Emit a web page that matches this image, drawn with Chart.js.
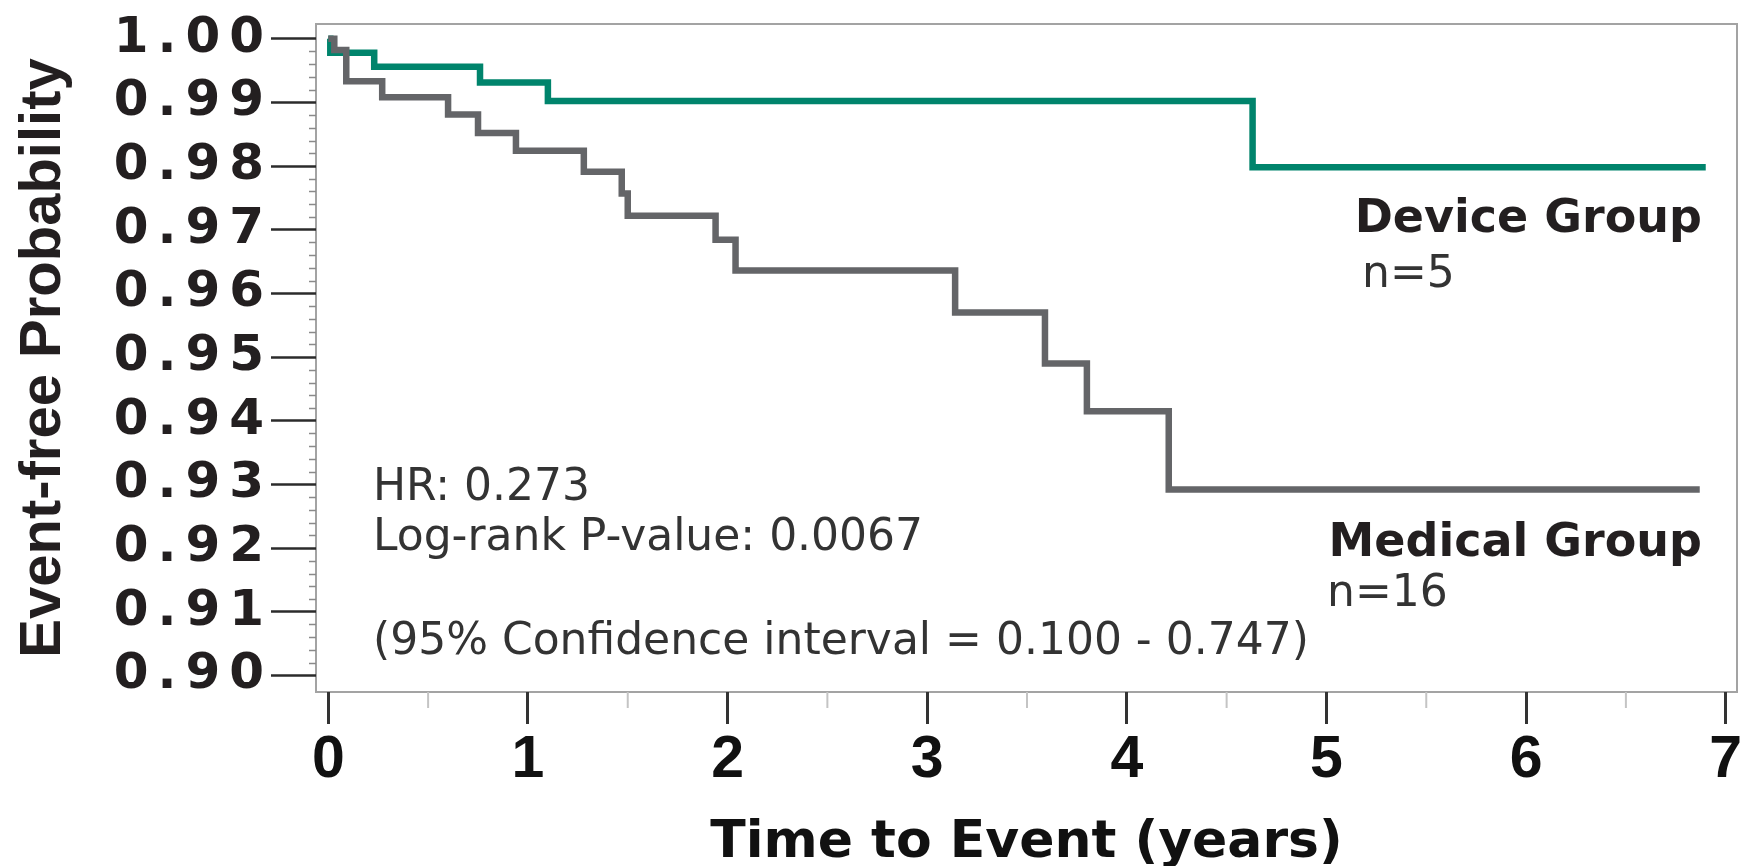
<!DOCTYPE html>
<html>
<head>
<meta charset="utf-8">
<script src="https://cdn.jsdelivr.net/npm/chart.js@4/dist/chart.umd.min.js"></script>
<style>
  html, body { margin: 0; padding: 0; background: #ffffff; }
  #c { display: block; }
</style>
</head>
<body>
<canvas id="c" width="1744" height="866"></canvas>
<script>
// ---- data ----
const xTicks = [0, 1, 2, 3, 4, 5, 6, 7];
const xMinorTicks = [0.5, 1.5, 2.5, 3.5, 4.5, 5.5, 6.5];
const yTicks = [0.90, 0.91, 0.92, 0.93, 0.94, 0.95, 0.96, 0.97, 0.98, 0.99, 1.00];
const yTickLabels = ['0.90', '0.91', '0.92', '0.93', '0.94', '0.95', '0.96', '0.97', '0.98', '0.99', '1.00'];

const deviceTime = [0, 0.01, 0.23, 0.76, 1.10, 4.63, 6.90];
const deviceSurv = [1.0, 0.9978, 0.9956, 0.9931, 0.9902, 0.9798, 0.9798];

const medicalTime = [0, 0.03, 0.09, 0.27, 0.60, 0.75, 0.94, 1.28, 1.47, 1.50, 1.94, 2.04, 3.14, 3.59, 3.80, 4.21, 6.87];
const medicalSurv = [1.0, 0.9982, 0.9933, 0.9908, 0.9881, 0.9852, 0.9824, 0.9791, 0.9757, 0.9722, 0.9684, 0.9636, 0.9570, 0.9490, 0.9415, 0.9292, 0.9292];

const groupNames = ['Device Group', 'Medical Group'];
const groupN = ['n=5', 'n=16'];
const statLines = ['HR: 0.273', 'Log-rank P-value: 0.0067', '', '(95% Confidence interval = 0.100 - 0.747)'];

const toPoints = (ts, ss) => ts.map((t, i) => ({ x: t, y: ss[i] }));

// ---- plugins ----
const letterSpacingPlugin = {
  id: 'ySpacing',
  beforeDraw(chart) { chart.ctx.letterSpacing = '9px'; },
  beforeDatasetsDraw(chart) { chart.ctx.letterSpacing = '0px'; }
};

const boxPlugin = {
  id: 'box',
  beforeDatasetsDraw(chart) {
    const { ctx, chartArea: a } = chart;
    ctx.save();
    ctx.strokeStyle = '#a3a3a3';
    ctx.lineWidth = 2;
    ctx.strokeRect(a.left, a.top, a.right - a.left, a.bottom - a.top);
    ctx.restore();
  }
};

const minorTickPlugin = {
  id: 'minorTicks',
  afterDraw(chart) {
    const { ctx, chartArea: a, scales } = chart;
    ctx.save();
    ctx.strokeStyle = '#8a8a8a';
    ctx.lineWidth = 1.5;
    for (let i = 0; i < yTicks.length - 1; i++) {
      for (let k = 1; k < 5; k++) {
        const v = yTicks[i] + (yTicks[i + 1] - yTicks[i]) * k / 5;
        const py = Math.round(scales.y.getPixelForValue(v)) + 0.5;
        ctx.beginPath();
        ctx.moveTo(a.left - 7, py);
        ctx.lineTo(a.left, py);
        ctx.stroke();
      }
    }
    ctx.strokeStyle = '#c4c4c4';
    ctx.lineWidth = 2;
    xMinorTicks.forEach(v => {
      const px = scales.x.getPixelForValue(v);
      ctx.beginPath();
      ctx.moveTo(px, a.bottom);
      ctx.lineTo(px, a.bottom + 16);
      ctx.stroke();
    });
    ctx.restore();
  }
};

const textPlugin = {
  id: 'texts',
  afterDraw(chart) {
    const { ctx } = chart;
    ctx.save();
    ctx.letterSpacing = '0px';
    ctx.textBaseline = 'alphabetic';
    ctx.fillStyle = '#333333';
    ctx.font = '44px "DejaVu Sans"';
    ctx.textAlign = 'left';
    const statBase = [500, 550, 602, 654];
    statLines.forEach((s, i) => { if (s) ctx.fillText(s, 373, statBase[i]); });
    ctx.fillStyle = '#231f20';
    ctx.font = 'bold 46px "DejaVu Sans"';
    ctx.textAlign = 'right';
    ctx.fillText(groupNames[0], 1702, 232);
    ctx.fillText(groupNames[1], 1702, 556);
    ctx.fillStyle = '#333333';
    ctx.font = '44px "DejaVu Sans"';
    ctx.textAlign = 'left';
    ctx.fillText(groupN[0], 1362, 287);
    ctx.fillText(groupN[1], 1327, 606);
    ctx.restore();
  }
};

new Chart(document.getElementById('c'), {
  type: 'line',
  data: {
    datasets: [
      {
        label: groupNames[1],
        data: toPoints(medicalTime, medicalSurv),
        borderColor: '#646568',
        borderWidth: 6.5,
        stepped: true,
        pointRadius: 0,
        fill: false,
        borderCapStyle: 'butt',
        borderJoinStyle: 'miter'
      },
      {
        label: groupNames[0],
        data: toPoints(deviceTime, deviceSurv),
        borderColor: '#00846c',
        borderWidth: 6.5,
        stepped: true,
        pointRadius: 0,
        fill: false,
        borderCapStyle: 'butt',
        borderJoinStyle: 'miter'
      }
    ]
  },
  options: {
    responsive: false,
    animation: false,
    devicePixelRatio: 1,
    layout: { padding: { top: 24, right: 7, left: 0, bottom: 0 } },
    plugins: { legend: { display: false }, tooltip: { enabled: false }, title: { display: false } },
    scales: {
      x: {
        type: 'linear',
        min: -0.0616,
        max: 7.0566,
        afterBuildTicks: (scale) => { scale.ticks = xTicks.map(v => ({ value: v })); },
        afterFit: (scale) => { scale.height = 174; scale.paddingLeft = 0; scale.paddingRight = 0; },
        border: { display: false },
        grid: { drawOnChartArea: false, drawTicks: true, tickLength: 32, tickColor: '#333333', tickWidth: 3, z: 1 },
        ticks: {
          z: 1,
          padding: 1,
          color: '#111111',
          font: { family: '"Liberation Sans", Arial, sans-serif', weight: 'bold', size: 59 },
          maxRotation: 0,
          callback: (v) => String(v)
        },
        title: {
          display: true,
          text: 'Time to Event (years)',
          color: '#111111',
          font: { family: '"DejaVu Sans", sans-serif', weight: 'bold', size: 52, lineHeight: 1 },
          padding: { top: 0, bottom: -3 }
        }
      },
      y: {
        type: 'linear',
        min: 0.8974,
        max: 1.0023,
        afterBuildTicks: (scale) => { scale.ticks = yTicks.map(v => ({ value: v })); },
        afterFit: (scale) => { scale.width = 316; scale.paddingTop = 0; scale.paddingBottom = 0; },
        border: { display: false },
        grid: { drawOnChartArea: false, drawTicks: true, tickLength: 45, tickColor: '#2b2b2b', tickWidth: 2.5, z: 1 },
        ticks: {
          z: 0,
          padding: -2,
          color: '#231f20',
          font: { family: '"DejaVu Sans", sans-serif', weight: 'bold', size: 50 },
          callback: (v) => {
            const i = yTicks.findIndex(t => Math.abs(t - v) < 1e-9);
            return i >= 0 ? yTickLabels[i] : '';
          }
        },
        title: {
          display: true,
          text: 'Event-free Probability',
          color: '#231f20',
          font: { family: '"Liberation Sans", Arial, sans-serif', weight: 'bold', size: 58, lineHeight: 1 },
          padding: { top: 15, bottom: 0 }
        }
      }
    }
  },
  plugins: [letterSpacingPlugin, boxPlugin, minorTickPlugin, textPlugin]
});
</script>
</body>
</html>
